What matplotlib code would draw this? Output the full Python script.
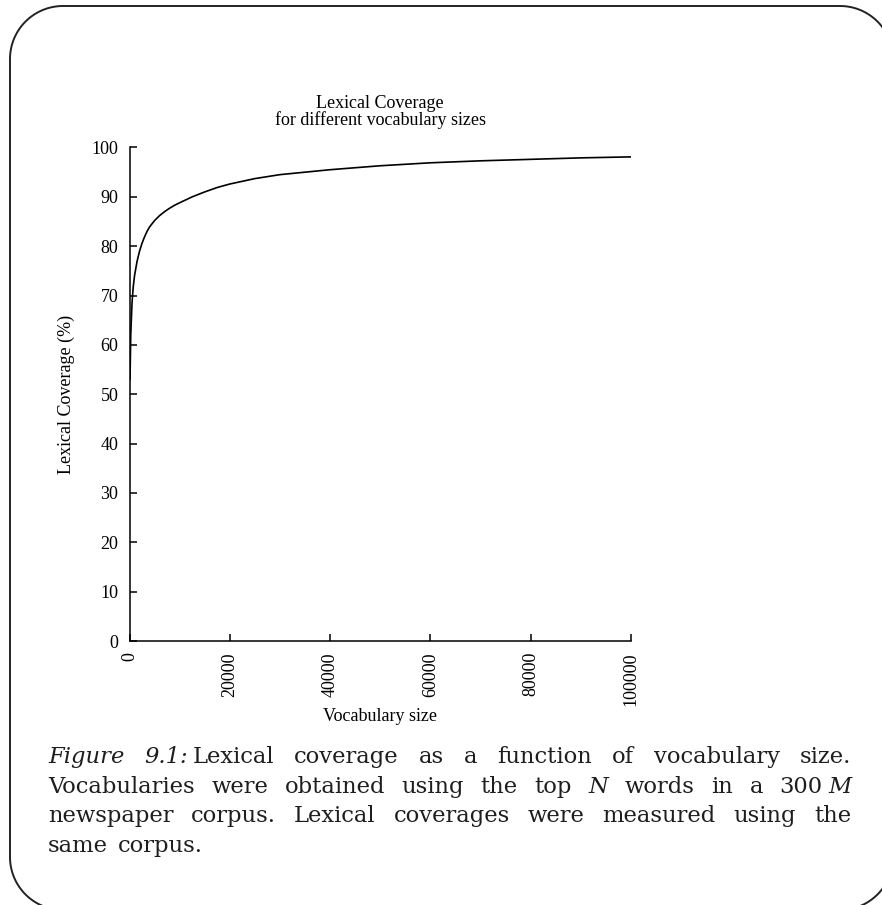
import matplotlib
matplotlib.use("Agg")
import numpy as np
import matplotlib.pyplot as plt
from matplotlib.patches import Polygon
from matplotlib.transforms import IdentityTransform

# top-N vocabulary size vs. lexical coverage (%) on the same corpus
vocab_size = [100, 250, 500, 750, 1000, 1500, 2000, 2500, 3000, 3500, 4000,
              5000, 6000, 7000, 8000, 9000, 10000, 12500, 15000, 17500, 20000,
              25000, 30000, 40000, 50000, 60000, 70000, 80000, 90000, 100000]
coverage = [53.0, 62.0, 68.5, 71.8, 74.0, 76.9, 79.0, 80.6, 81.9, 83.0, 83.9,
            85.2, 86.2, 87.0, 87.7, 88.3, 88.8, 90.0, 91.0, 91.9, 92.6,
            93.7, 94.5, 95.5, 96.3, 96.9, 97.3, 97.6, 97.9, 98.1]

x_ticks = [0, 20000, 40000, 60000, 80000, 100000]
y_ticks = [0, 10, 20, 30, 40, 50, 60, 70, 80, 90, 100]

title = "Lexical Coverage\nfor different vocabulary sizes"

# caption words: "_" = italic, "|" = glued with a small fixed gap
caption_lines = [
    ["_Figure", "_9.1:|Lexical", "coverage", "as", "a", "function", "of",
     "vocabulary", "size."],
    ["Vocabularies", "were", "obtained", "using", "the", "top", "_N", "words",
     "in", "a", "300|_M"],
    ["newspaper", "corpus.", "Lexical", "coverages", "were", "measured",
     "using", "the"],
    ["same", "corpus."],
]

W, H = 882, 905
plt.rcParams['font.family'] = 'Liberation Serif'
fig = plt.figure(figsize=(W / 100, H / 100), dpi=100)


def rounded_box(left, bottom, right, top, rad, n=40):
    # outline in pixel coords, counter-clockwise from the top-right corner
    corners = [(right - rad, top - rad, 0, 90), (left + rad, top - rad, 90, 180),
               (left + rad, bottom + rad, 180, 270), (right - rad, bottom + rad, 270, 360)]
    pts = []
    for cx, cy, a0, a1 in corners:
        a = np.radians(np.linspace(a0, a1, n))
        pts.extend(zip(cx + rad * np.cos(a), cy + rad * np.sin(a)))
    return np.array(pts)


frame = Polygon(rounded_box(10, H - 910, 893, H - 6, 53), closed=True,
                fill=False, edgecolor='#222222', linewidth=1.4,
                transform=IdentityTransform())
fig.add_artist(frame)

# plot area
ax_left, ax_right, ax_top, ax_bottom = 129.5, 631, 147.5, 641
ax = fig.add_axes([ax_left / W, 1 - ax_bottom / H,
                   (ax_right - ax_left) / W, (ax_bottom - ax_top) / H])
ax.plot(vocab_size, coverage, color='black', lw=1.2)
ax.set_xlim(0, 100000)
ax.set_ylim(0, 100)
ax.set_xticks(x_ticks)
ax.set_xticklabels([str(t) for t in x_ticks], rotation=90)
ax.set_yticks(y_ticks)
ax.spines['top'].set_visible(False)
ax.spines['right'].set_visible(False)
for s in ['left', 'bottom']:
    ax.spines[s].set_linewidth(1.1)
ax.tick_params(direction='in', length=5, width=1.1, labelsize=13, pad=8)
ax.set_ylabel('Lexical Coverage (%)', fontsize=13)
ax.yaxis.set_label_coords(-0.109, 0.5)
ax.set_xlabel('Vocabulary size', fontsize=13)
ax.xaxis.set_label_coords(0.5, -0.136)

cx = (ax_left + ax_right) / 2 / W
fig.text(cx, 1 - 112 / H, title, ha='center', va='center', fontsize=13,
         linespacing=0.97)

# justified caption
cap_font = 'DejaVu Serif'
cap_size = 16.3
cap_color = '#1e1e1e'
x0, x1 = 48, 851
glue_gap = 5
normal_gap = 10
fig.canvas.draw()
renderer = fig.canvas.get_renderer()


def make_word(word):
    parts = []
    for piece in word.split('|'):
        style = 'normal'
        if piece.startswith('_'):
            style = 'italic'
            piece = piece[1:]
        t = fig.text(0, 0, piece, fontsize=cap_size, family=cap_font,
                     style=style, color=cap_color, va='baseline', ha='left')
        w = t.get_window_extent(renderer).width
        parts.append((t, w))
    width = sum(w for _, w in parts) + glue_gap * (len(parts) - 1)
    return parts, width


for i, line in enumerate(caption_lines):
    words = [make_word(w) for w in line]
    total = sum(w for _, w in words)
    if i < len(caption_lines) - 1:
        gap = (x1 - x0 - total) / (len(words) - 1)
    else:
        gap = normal_gap
    y = 1 - (763 + 29.6 * i) / H
    x = x0
    for parts, width in words:
        px = x
        for t, w in parts:
            t.set_position((px / W, y))
            px += w + glue_gap
        x += width + gap

fig.savefig('out.png', dpi=100)
